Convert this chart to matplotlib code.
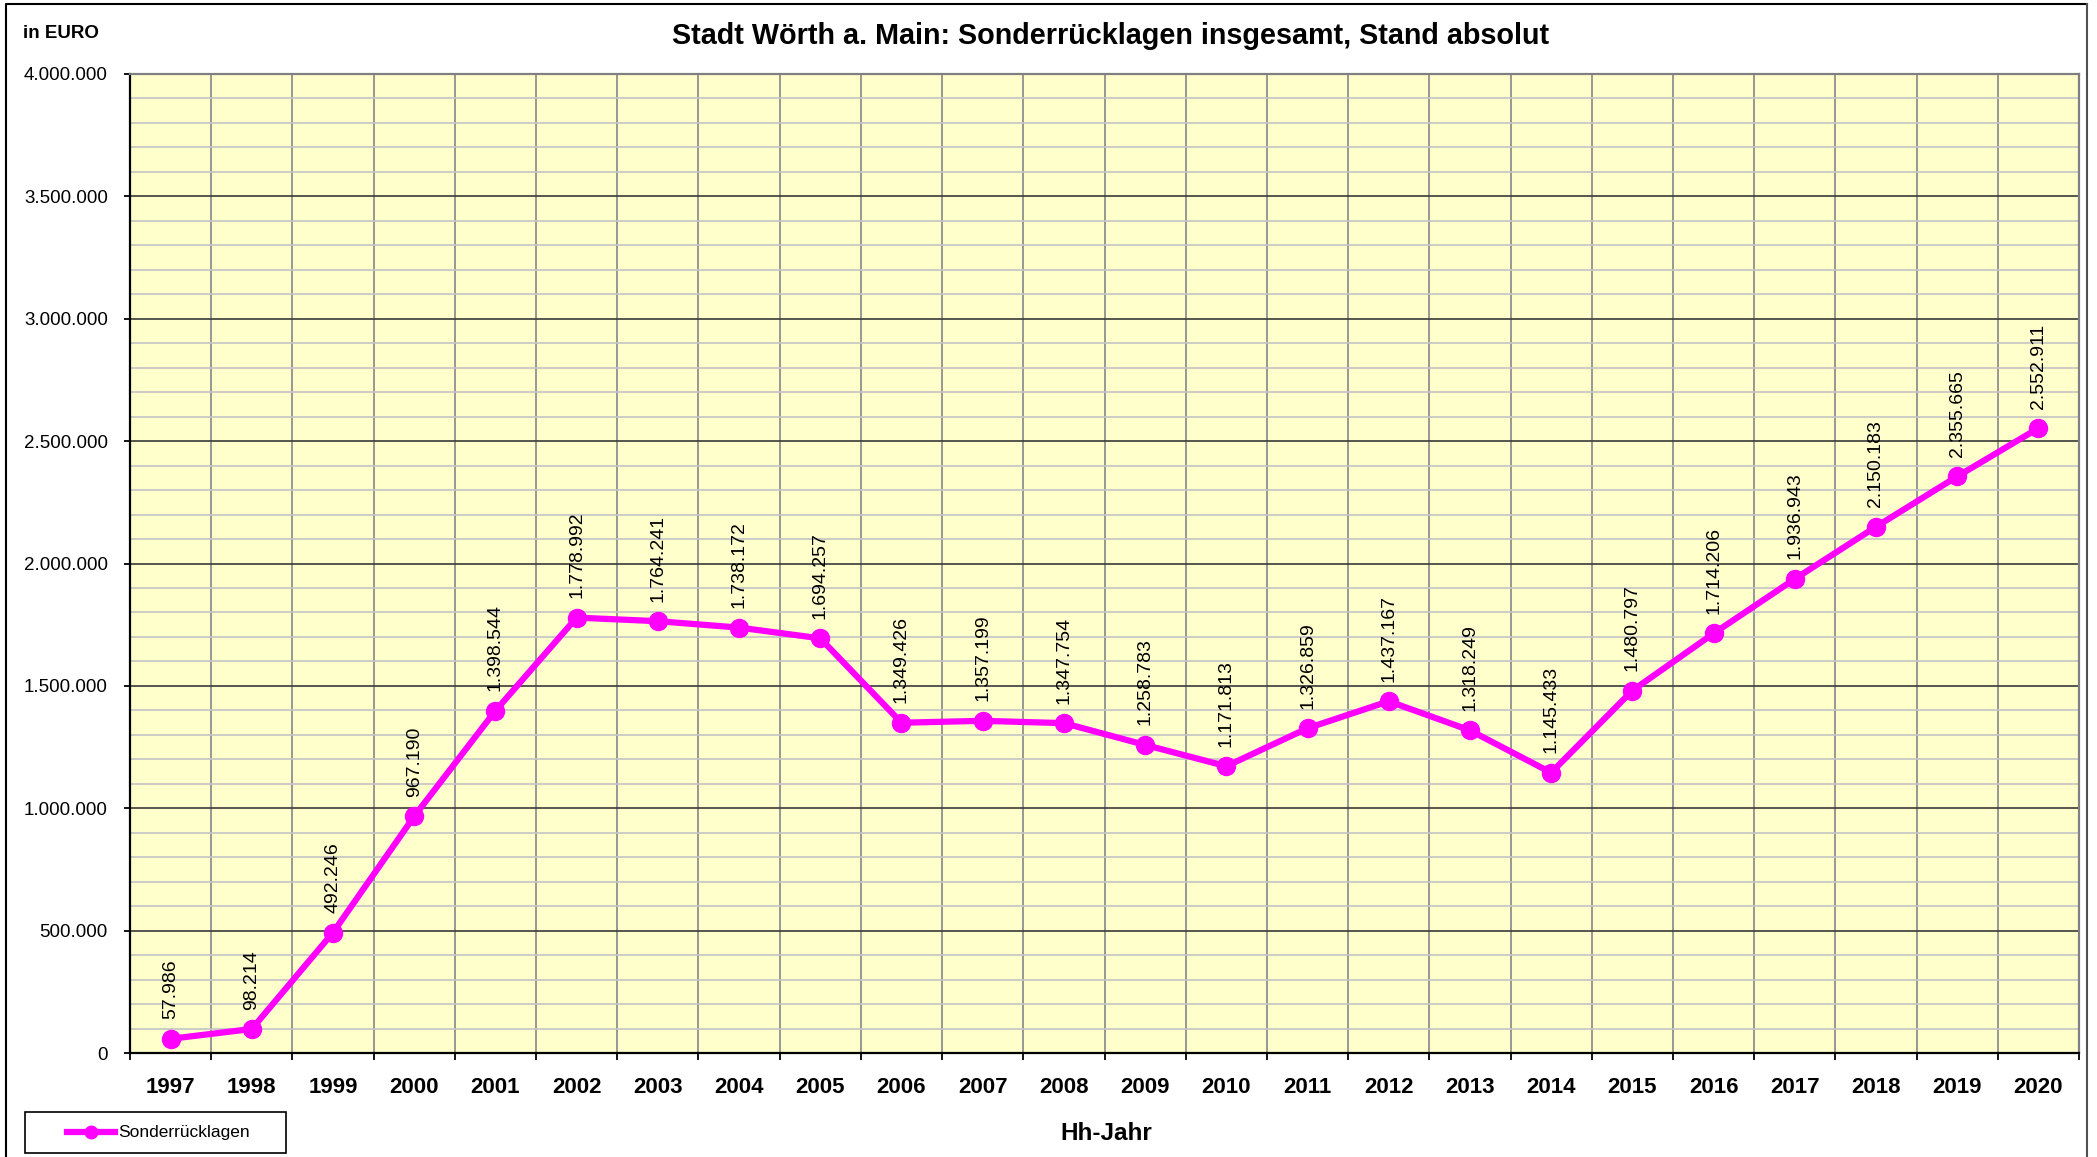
"""
Stadt Wörth a. Main: Sonderrücklagen insgesamt, Stand absolut (1997-2020).
"""
import matplotlib
matplotlib.use("Agg")
import matplotlib.pyplot as plt
from matplotlib.lines import Line2D
from matplotlib.patches import Rectangle
from matplotlib.ticker import FixedLocator, FuncFormatter, MultipleLocator

plt.rcParams["font.family"] = ["Liberation Sans", "DejaVu Sans"]

years = [1997, 1998, 1999, 2000, 2001, 2002, 2003, 2004, 2005, 2006, 2007, 2008,
         2009, 2010, 2011, 2012, 2013, 2014, 2015, 2016, 2017, 2018, 2019, 2020]
sonderruecklagen = [57986, 98214, 492246, 967190, 1398544, 1778992, 1764241, 1738172,
                    1694257, 1349426, 1357199, 1347754, 1258783, 1171813, 1326859,
                    1437167, 1318249, 1145433, 1480797, 1714206, 1936943, 2150183,
                    2355665, 2552911]

MAGENTA = "#FF00FF"
W, H = 2097, 1157


def de_fmt(v, _pos=None):
    return f"{int(round(v)):,}".replace(",", ".")


fig = plt.figure(figsize=(W / 100, H / 100), dpi=100)
ax = fig.add_axes([130 / W, 1 - 1053 / H, (2079 - 130) / W, (1053 - 74) / H])
ax.set_facecolor("#FFFFCC")

x = list(range(len(years)))
ax.plot(x, sonderruecklagen, color=MAGENTA, linewidth=4.5, marker="o",
        markersize=13, zorder=5, clip_on=False)
for xi, v in zip(x, sonderruecklagen):
    ax.annotate(de_fmt(v), (xi, v), xytext=(0, 14), textcoords="offset points",
                rotation=90, ha="center", va="bottom", fontsize=14, zorder=6)

ax.set_xlim(-0.5, len(years) - 0.5)
ax.set_ylim(0, 4000000)

# y axis: labelled gridlines every 500k, light ones every 100k
ax.yaxis.set_major_locator(MultipleLocator(500000))
ax.yaxis.set_minor_locator(MultipleLocator(100000))
ax.yaxis.set_major_formatter(FuncFormatter(de_fmt))
ax.grid(axis="y", which="major", color="#3a3a3a", linewidth=1.2, zorder=1)
ax.grid(axis="y", which="minor", color="#c4c4c4", linewidth=1.2, zorder=0)

# x axis: ticks and gridlines on category borders, labels in the middle
ax.xaxis.set_major_locator(FixedLocator([i - 0.5 for i in range(len(years) + 1)]))
ax.xaxis.set_minor_locator(FixedLocator(x))
ax.xaxis.set_major_formatter(FuncFormatter(lambda v, p: ""))
ax.xaxis.set_minor_formatter(FuncFormatter(lambda v, p: str(years[int(round(v))])))
ax.grid(axis="x", which="major", color="#909090", linewidth=1.3, zorder=1)
ax.set_axisbelow(True)

ax.tick_params(axis="x", which="major", direction="out", length=5, width=1.3, color="black")
ax.tick_params(axis="x", which="minor", length=0, pad=17, labelsize=16)
for lbl in ax.get_xticklabels(minor=True):
    lbl.set_fontweight("bold")
ax.tick_params(axis="y", which="major", direction="out", length=4, width=1.3,
               color="black", pad=12, labelsize=13.5)
ax.tick_params(axis="y", which="minor", length=0)

for side in ("left", "bottom"):
    ax.spines[side].set_color("black")
    ax.spines[side].set_linewidth(1.6)
for side in ("top", "right"):
    ax.spines[side].set_color("#808080")
    ax.spines[side].set_linewidth(1.6)

fig.suptitle("Stadt Wörth a. Main: Sonderrücklagen insgesamt, Stand absolut",
             x=1111 / W, y=1 - 36 / H, va="center", fontsize=20.7, fontweight="bold")
fig.text(23 / W, 1 - 33 / H, "in EURO", va="center", ha="left", fontsize=13.5,
         fontweight="bold")
fig.text(1106 / W, 1 - 1133 / H, "Hh-Jahr", va="center", ha="center", fontsize=17.5,
         fontweight="bold")

# legend box drawn by hand (Excel-style wide box)
fig.patches.append(Rectangle((25 / W, 1 - 1153 / H), 261 / W, 41 / H,
                             transform=fig.transFigure, facecolor="white",
                             edgecolor="black", linewidth=1.2))
ly = 1 - 1132 / H
fig.lines.append(Line2D([67 / W, 115 / W], [ly, ly], transform=fig.transFigure,
                        color=MAGENTA, linewidth=4.5))
fig.lines.append(Line2D([91 / W], [ly], transform=fig.transFigure, color=MAGENTA,
                        marker="o", markersize=9))
fig.text(118 / W, ly, "Sonderrücklagen", va="center", ha="left", fontsize=12.5)

# chart area border
fig.lines.append(Line2D([6 / W, 6 / W, 2087 / W], [-0.01, 1 - 4 / H, 1 - 4 / H],
                        transform=fig.transFigure, color="black", linewidth=1.5))
fig.lines.append(Line2D([2087 / W, 2087 / W], [1 - 4 / H, -0.01],
                        transform=fig.transFigure, color="#505050", linewidth=1.5))

fig.savefig("out.png", dpi=100)
plt.close(fig)
